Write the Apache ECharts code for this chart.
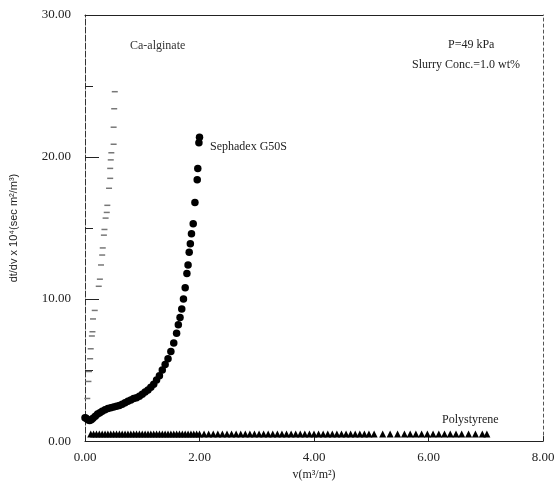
<!DOCTYPE html>
<html>
<head>
<meta charset="utf-8">
<script src="https://cdn.jsdelivr.net/npm/echarts@6/dist/echarts.min.js"></script>
<style>
  html, body { margin: 0; padding: 0; background: #fff; }
  #chart { width: 560px; height: 486px; }
</style>
</head>
<body>
<div id="chart"></div>
<script>
// values
const xTicks = [0, 2, 4, 6, 8];
const yTicks = [0, 10, 20, 30];

const sephX = [0.00, 0.02, 0.05, 0.08, 0.11, 0.14, 0.18, 0.22, 0.26, 0.30, 0.35, 0.40, 0.45, 0.50, 0.55,
  0.60, 0.65, 0.70, 0.75, 0.80, 0.85, 0.90, 0.95, 1.00, 1.05, 1.10, 1.15, 1.20, 1.25, 1.30, 1.35,
  1.40, 1.45, 1.50, 1.55, 1.60, 1.63, 1.66, 1.69, 1.72, 1.75, 1.78, 1.80, 1.82, 1.84, 1.86, 1.89,
  1.92, 1.96, 1.97, 1.99, 2.00];
const sephY = [1.65, 1.60, 1.50, 1.45, 1.50, 1.60, 1.75, 1.90, 2.00, 2.10, 2.20, 2.30, 2.35, 2.40, 2.45,
  2.50, 2.60, 2.70, 2.80, 2.90, 3.00, 3.05, 3.15, 3.30, 3.45, 3.60, 3.80, 4.00, 4.30, 4.60, 5.00,
  5.40, 5.80, 6.30, 6.90, 7.60, 8.20, 8.70, 9.30, 10.0, 10.8, 11.8, 12.4, 13.3, 13.9, 14.6, 15.3,
  16.8, 18.4, 19.2, 21.0, 21.4];

const caX = [0.04, 0.06, 0.07, 0.09, 0.10, 0.12, 0.13, 0.14, 0.17, 0.24, 0.26, 0.28, 0.30, 0.31,
  0.33, 0.34, 0.36, 0.38, 0.39, 0.42, 0.44, 0.44, 0.45, 0.46, 0.50, 0.50, 0.51, 0.52];
const caY = [3.0, 4.2, 4.9, 5.8, 6.5, 7.4, 7.7, 8.6, 9.2, 10.9, 11.4, 12.4, 13.1, 13.6,
  14.5, 14.9, 15.7, 16.1, 16.6, 17.8, 18.5, 19.2, 19.8, 20.3, 20.9, 22.1, 23.4, 24.6];

const polyX = [0.10, 0.15, 0.20, 0.25, 0.30, 0.35, 0.40, 0.45, 0.50, 0.55, 0.60, 0.65, 0.70, 0.75,
  0.80, 0.85, 0.90, 0.95, 1.00, 1.05, 1.10, 1.15, 1.20, 1.25, 1.30, 1.35, 1.40, 1.45, 1.50, 1.55,
  1.60, 1.65, 1.70, 1.75, 1.80, 1.85, 1.90, 1.95, 2.00, 2.08, 2.16, 2.24, 2.32, 2.40, 2.48, 2.56,
  2.64, 2.72, 2.80, 2.88, 2.96, 3.04, 3.12, 3.20, 3.28, 3.36, 3.44, 3.52, 3.60, 3.68, 3.76, 3.84,
  3.92, 4.00, 4.08, 4.16, 4.24, 4.32, 4.40, 4.48, 4.56, 4.64, 4.72, 4.80, 4.88, 4.96, 5.05, 5.20,
  5.33, 5.46, 5.58, 5.68, 5.78, 5.88, 5.98, 6.08, 6.18, 6.28, 6.38, 6.48, 6.58, 6.70, 6.82, 6.94, 7.02];
const polyLevel = 0.5;

const serif = 'Liberation Serif';

const chart = echarts.init(document.getElementById('chart'));

const pairs = (xs, ys) => xs.map((x, i) => [x, Array.isArray(ys) ? ys[i] : ys]);

const option = {
  animation: false,
  backgroundColor: '#fff',
  grid: { left: 85, right: 17, top: 15, bottom: 42 },
  xAxis: [{
    type: 'value', min: 0, max: 8, interval: 2,
    axisLine: { show: true, lineStyle: { color: '#222', width: 1 } },
    axisTick: { show: true, inside: true, length: 5, lineStyle: { color: '#222' } },
    splitLine: { show: false },
    axisLabel: {
      color: '#222', fontFamily: serif, fontSize: 13, margin: 10,
      formatter: v => xTicks.includes(v) ? v.toFixed(2) : ''
    },
    name: 'v(m³/m²)', nameLocation: 'middle', nameGap: 27,
    nameTextStyle: { color: '#222', fontFamily: serif, fontSize: 12 }
  }, {
    type: 'value', position: 'top', min: 0, max: 8,
    axisLine: { show: true, onZero: false, lineStyle: { color: '#222', width: 1 } },
    axisTick: { show: false }, axisLabel: { show: false }, splitLine: { show: false }
  }],
  yAxis: [{
    type: 'value', min: 0, max: 30, interval: 10,
    axisLine: { show: true, lineStyle: { color: '#333', width: 1, type: [6, 2] } },
    axisTick: { show: true, inside: true, length: 14, lineStyle: { color: '#222' } },
    minorTick: { show: true, splitNumber: 2, length: 8, lineStyle: { color: '#222' } },
    splitLine: { show: false },
    axisLabel: {
      color: '#222', fontFamily: serif, fontSize: 13, margin: 14,
      formatter: v => yTicks.includes(v) ? v.toFixed(2) : ''
    },
    name: 'dt/dv x 10⁴(sec m²/m³)', nameLocation: 'middle', nameGap: 66,
    nameTextStyle: { color: '#222', fontFamily: 'Liberation Sans', fontSize: 11 }
  }, {
    type: 'value', position: 'right', min: 0, max: 30,
    axisLine: { show: true, onZero: false, lineStyle: { color: '#555', width: 1, type: [3, 3] } },
    axisTick: { show: false }, axisLabel: { show: false }, splitLine: { show: false }
  }],
  series: [{
    name: 'Sephadex G50S', type: 'scatter',
    symbol: 'circle', symbolSize: 7.5,
    itemStyle: { color: '#000', opacity: 1 },
    data: pairs(sephX, sephY)
  }, {
    name: 'Ca-alginate', type: 'scatter',
    symbol: 'rect', symbolSize: [6, 1.5],
    itemStyle: { color: '#777', opacity: 1 },
    data: pairs(caX, caY)
  }, {
    name: 'Polystyrene', type: 'scatter',
    symbol: 'triangle', symbolSize: 7,
    itemStyle: { color: '#000', opacity: 1 },
    data: pairs(polyX, polyLevel)
  }],
  graphic: [
    { type: 'text', left: 130, top: 40, style: { text: 'Ca-alginate', font: '12px "Liberation Serif"', fill: '#333' } },
    { type: 'text', left: 210, top: 141, style: { text: 'Sephadex G50S', font: '12px "Liberation Serif"', fill: '#222' } },
    { type: 'text', left: 442, top: 414, style: { text: 'Polystyrene', font: '12px "Liberation Serif"', fill: '#222' } },
    { type: 'text', left: 448, top: 39, style: { text: 'P=49 kPa', font: '12px "Liberation Serif"', fill: '#222' } },
    { type: 'text', left: 412, top: 59, style: { text: 'Slurry Conc.=1.0 wt%', font: '12px "Liberation Serif"', fill: '#222' } }
  ]
};

chart.setOption(option);
</script>
</body>
</html>
